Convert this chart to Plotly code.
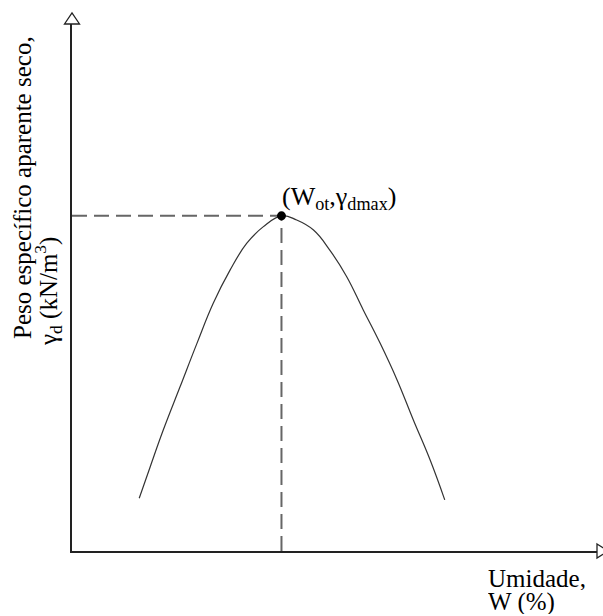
import plotly.graph_objects as go

# Compaction curve (arbitrary units, no ticks shown)
umidade = [12.8, 14.9, 17.4, 20.6, 23.8, 26.9, 30.1, 33.3, 36.4, 39.9,
           42.8, 46.0, 49.1, 52.3, 55.5, 58.7, 61.9, 65.0, 68.2, 71.0]
peso = [10.0, 16.0, 23.0, 31.2, 39.4, 47.0, 53.3, 58.4, 61.5, 63.6,
        62.8, 60.9, 57.1, 52.1, 45.7, 39.4, 32.5, 24.9, 17.3, 9.7]
w_ot = 39.9
g_dmax = 63.6
x_max = 100.0
y_max = 100.0

W, H = 603, 616
ml, mr, mt, mb = 72, 6, 24, 65
pw = W - ml - mr
ph = H - mt - mb


def px_x(p):
    return (p - ml) / pw


def px_y(p):
    return 1 - (p - mt) / ph


fig = go.Figure()

dash_style = dict(color="#666", width=2, dash="15px,7px")
fig.add_trace(go.Scatter(x=[0, w_ot], y=[g_dmax, g_dmax], mode="lines",
                         line=dash_style, hoverinfo="skip", showlegend=False))
fig.add_trace(go.Scatter(x=[w_ot, w_ot], y=[0, g_dmax], mode="lines",
                         line=dash_style, hoverinfo="skip", showlegend=False))
fig.add_trace(go.Scatter(x=umidade, y=peso, mode="lines",
                         line=dict(color="#333", width=1.2, shape="spline", smoothing=1.2),
                         showlegend=False))
fig.add_trace(go.Scatter(x=[w_ot], y=[g_dmax], mode="markers",
                         marker=dict(color="black", size=9), showlegend=False))

font = "Liberation Serif, Times New Roman, serif"

# open arrow heads at the axis ends (paper coordinates)
up_arrow = "M {l},{b} L {c},{t} L {r},{b} Z".format(
    l=px_x(64.5), r=px_x(79.5), c=px_x(72), b=px_y(24), t=px_y(13))
right_arrow = "M {l},{t} L {tip},{m} L {l},{bt} Z".format(
    l=px_x(597), tip=px_x(608), m=px_y(551), t=px_y(544), bt=px_y(558))

fig.update_layout(
    width=W, height=H,
    margin=dict(l=ml, r=mr, t=mt, b=mb),
    paper_bgcolor="white", plot_bgcolor="white",
    font=dict(family=font, color="black", size=24),
    xaxis=dict(range=[0, x_max], showgrid=False, zeroline=False, showticklabels=False,
               ticks="", showline=True, linecolor="#222", linewidth=1.5),
    yaxis=dict(range=[0, y_max], showgrid=False, zeroline=False, showticklabels=False,
               ticks="", showline=True, linecolor="#222", linewidth=1.5),
    shapes=[
        dict(type="path", xref="paper", yref="paper", path=up_arrow,
             fillcolor="white", line=dict(color="#222", width=1.3), layer="above"),
        dict(type="path", xref="paper", yref="paper", path=right_arrow,
             fillcolor="white", line=dict(color="#222", width=1.3), layer="above"),
    ],
    annotations=[
        dict(text="(W<sub>ot</sub>,γ<sub>dmax</sub>)", x=w_ot, y=g_dmax,
             xref="x", yref="y", xanchor="left", yanchor="bottom",
             xshift=-1, yshift=0, showarrow=False, font=dict(size=26)),
        dict(text="Peso específico aparente seco,", x=px_x(22), y=px_y(188),
             xref="paper", yref="paper", xanchor="center", yanchor="middle",
             showarrow=False, textangle=-90, font=dict(size=25)),
        dict(text="γ<sub>d</sub> (kN/m<sup>3</sup>)", x=px_x(48), y=px_y(292),
             xref="paper", yref="paper", xanchor="center", yanchor="middle",
             showarrow=False, textangle=-90, font=dict(size=25)),
        dict(text="Umidade,", x=px_x(486), y=px_y(578), height=24,
             xref="paper", yref="paper", xanchor="left", yanchor="middle",
             showarrow=False, font=dict(size=25)),
        dict(text="W (%)", x=px_x(486), y=px_y(602), height=24,
             xref="paper", yref="paper", xanchor="left", yanchor="middle",
             showarrow=False, font=dict(size=25)),
    ],
)

fig.write_html("out.html")
